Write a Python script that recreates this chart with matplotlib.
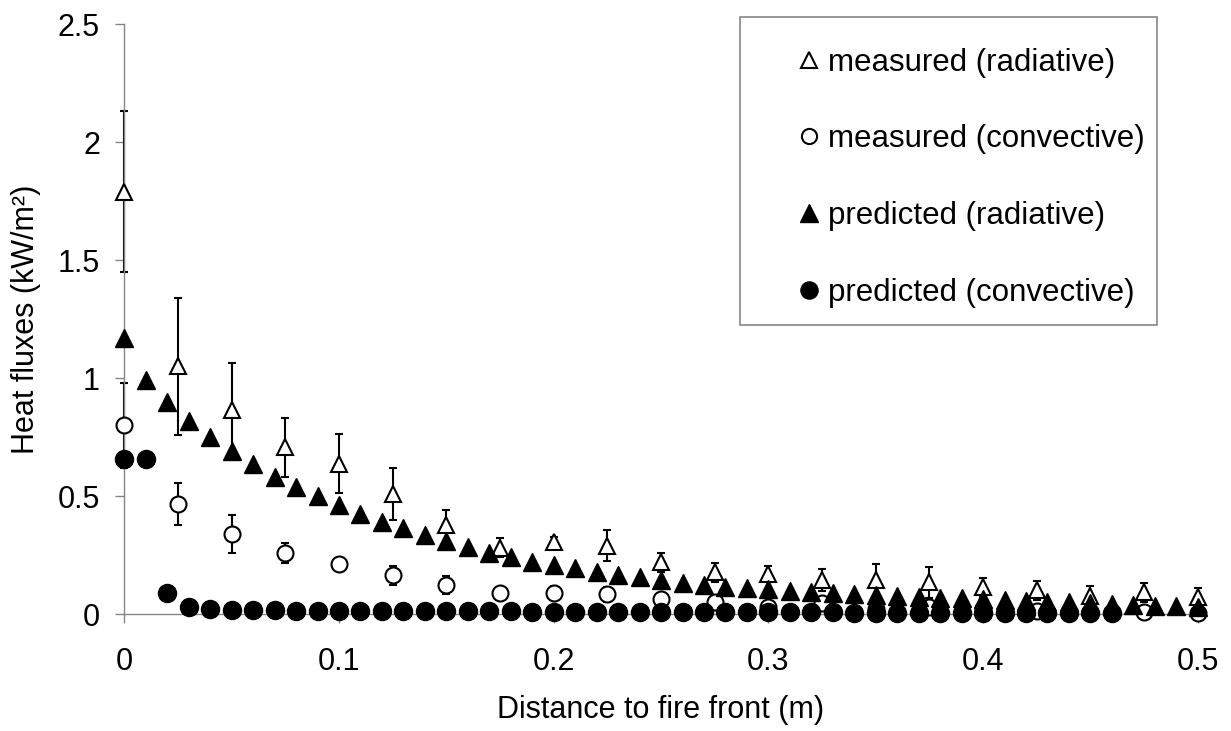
import numpy as np
import matplotlib
matplotlib.use("Agg")
import matplotlib.pyplot as plt
from matplotlib.patches import Rectangle

plt.rcParams['font.family'] = ['Liberation Sans', 'DejaVu Sans']

# measured values (every 0.025 m)
x_meas = [0, 0.025, 0.05, 0.075, 0.1, 0.125, 0.15, 0.175, 0.2, 0.225, 0.25,
          0.275, 0.3, 0.325, 0.35, 0.375, 0.4, 0.425, 0.45, 0.475, 0.5]
rad_meas = [1.79, 1.05, 0.865, 0.706, 0.636, 0.507, 0.376, 0.281, 0.305, 0.29, 0.22,
            0.177, 0.169, 0.144, 0.145, 0.135, 0.114, 0.1, 0.078, 0.092, 0.072]
rad_err = [0.34, 0.29, 0.2, 0.125, 0.125, 0.11, 0.065, 0.04, 0.02, 0.065, 0.04,
           0.04, 0.035, 0.045, 0.065, 0.065, 0.04, 0.04, 0.04, 0.04, 0.04]
conv_meas = [0.80, 0.466, 0.339, 0.257, 0.212, 0.165, 0.123, 0.088, 0.09, 0.083, 0.065,
             0.05, 0.03, 0.045, 0.02, 0.03, 0.02, 0.015, 0.01, 0.008, 0.005]
conv_err = [0.18, 0.09, 0.08, 0.042, 0.01, 0.04, 0.04, 0.015, 0.03, 0.03, 0.015,
            0.02, 0.02, 0.02, 0.01, 0.02, 0.01, 0.01, 0.01, 0.01, 0.005]

# predicted values (every 0.01 m)
x_pred_rad = [i / 100 for i in range(51)]
rad_pred = [1.17, 0.99, 0.90, 0.82, 0.75, 0.69, 0.635, 0.58, 0.54, 0.50,
            0.46, 0.425, 0.39, 0.365, 0.335, 0.31, 0.285, 0.26, 0.243, 0.222,
            0.207, 0.193, 0.18, 0.166, 0.156, 0.144, 0.133, 0.123, 0.116, 0.11,
            0.105, 0.099, 0.094, 0.09, 0.085, 0.08, 0.076, 0.073, 0.07, 0.066,
            0.063, 0.06, 0.056, 0.052, 0.049, 0.046, 0.043, 0.04, 0.035, 0.032,
            0.028]
x_pred_conv = [i / 100 for i in range(47)]
conv_pred = [0.655, 0.655, 0.088, 0.03, 0.02, 0.018, 0.017, 0.016, 0.015, 0.015,
             0.014, 0.014, 0.013, 0.013, 0.012, 0.012, 0.011, 0.011, 0.011, 0.010,
             0.010, 0.010, 0.009, 0.009, 0.009, 0.009, 0.008, 0.008, 0.008, 0.008,
             0.007, 0.007, 0.007, 0.007, 0.006, 0.006, 0.006, 0.006, 0.006, 0.005,
             0.005, 0.005, 0.005, 0.005, 0.004, 0.004, 0.004]

fs = 22
gray = '#868686'

fig = plt.figure(figsize=(12.31, 7.31), dpi=100)
ax = fig.add_axes([0.101, 0.16, 0.872, 0.807])

for yv, ev in [(rad_meas, rad_err), (conv_meas, conv_err)]:
    eb = ax.errorbar(x_meas, yv, yerr=ev, fmt='none', ecolor='black',
                     elinewidth=1.5, capsize=3, capthick=1.5, zorder=2)
    for art in eb.lines[1] + eb.lines[2]:
        art.set_clip_on(False)

ax.plot(x_meas, rad_meas, '^', ms=12, mfc='white', mec='black', mew=1.5,
        ls='none', label='measured (radiative)', zorder=3, clip_on=False)
ax.plot(x_meas, conv_meas, 'o', ms=11.5, mfc='white', mec='black', mew=1.5,
        ls='none', label='measured (convective)', zorder=3, clip_on=False)
ax.plot(x_pred_rad, rad_pred, '^', ms=13, color='black', ls='none',
        label='predicted (radiative)', zorder=4, clip_on=False)
ax.plot(x_pred_conv, conv_pred, 'o', ms=13, color='black', ls='none',
        label='predicted (convective)', zorder=4, clip_on=False)

ax.set_xlim(0, 0.5)
ax.set_ylim(0, 2.5)
ax.set_xticks([0, 0.1, 0.2, 0.3, 0.4, 0.5])
ax.set_xticklabels(['0', '0.1', '0.2', '0.3', '0.4', '0.5'])
ax.set_yticks([0, 0.5, 1, 1.5, 2, 2.5])
ax.set_yticklabels(['0', '0.5', '1', '1.5', '2', '2.5'])
ax.tick_params(axis='both', direction='out', length=6.5, width=1, color=gray,
               labelsize=fs)
ax.tick_params(axis='x', pad=17)
ax.tick_params(axis='y', pad=11)
for s in ['top', 'right']:
    ax.spines[s].set_visible(False)
for s in ['left', 'bottom']:
    ax.spines[s].set_color(gray)
    ax.spines[s].set_linewidth(1)

ax.set_xlabel('Distance to fire front (m)', fontsize=fs, labelpad=13)
ax.set_ylabel('Heat fluxes (kW/m²)', fontsize=fs, labelpad=12)

leg = ax.legend(loc='upper left', bbox_to_anchor=(0.603, 1.008), frameon=False,
                fontsize=22.5, handlelength=0.6, handletextpad=0.3,
                labelspacing=1.5, markerscale=0.95)
ax.add_patch(Rectangle((0.574, 0.49), 0.388, 0.522, transform=ax.transAxes,
                       fill=False, edgecolor=gray, lw=1.2, clip_on=False))

fig.savefig('out.png', dpi=100)
